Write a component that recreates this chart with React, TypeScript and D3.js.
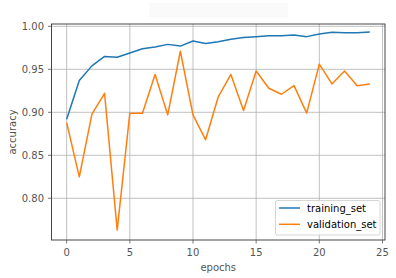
import React from "react";
import * as d3 from "d3";

const epochs = d3.range(25);
const trainingSet = [
  0.892, 0.937, 0.954, 0.965, 0.964, 0.969, 0.974, 0.976, 0.979, 0.977,
  0.983, 0.98, 0.982, 0.985, 0.987, 0.988, 0.989, 0.989, 0.99, 0.988,
  0.991, 0.993, 0.9926, 0.9926, 0.9934
];
const validationSet = [
  0.888, 0.825, 0.898, 0.922, 0.763, 0.899, 0.899, 0.944, 0.897, 0.971,
  0.897, 0.868, 0.918, 0.944, 0.902, 0.948, 0.928, 0.921, 0.931, 0.899,
  0.956, 0.933, 0.948, 0.931, 0.933
];
const xTicks = [0, 5, 10, 15, 20, 25];
const yTicks = [0.8, 0.85, 0.9, 0.95, 1.0];
const seriesNames = ["training_set", "validation_set"];
const colors = ["#1f77b4", "#ff7f0e"];

const W = 396;
const H = 278;
const left = 51.5;
const right = 385;
const top = 24;
const bottom = 240;

export default function App() {
  const x = d3.scaleLinear().domain([-1.2, 25.2]).range([left, right]);
  const y = d3.scaleLinear().domain([0.7515, 1.0027]).range([bottom, top]);

  const line = d3
    .line<number>()
    .x((_, i) => x(epochs[i]))
    .y(d => y(d));

  const font = "'DejaVu Sans', sans-serif";
  const tickColor = "#555";

  return (
    <svg
      width={W}
      height={H}
      style={{ position: "absolute", left: 0, top: 0 }}
      fontFamily={font}
    >
      <rect width={W} height={H} fill="#fff" />
      <rect x={149} y={3} width={139} height={15} fill="#fafafa" />
      {/* grid */}
      {xTicks.map(t => (
        <line key={"gx" + t} x1={x(t)} x2={x(t)} y1={top} y2={bottom} stroke="#b0b0b0" strokeWidth={0.8} />
      ))}
      {yTicks.map(t => (
        <line key={"gy" + t} x1={left} x2={right} y1={y(t)} y2={y(t)} stroke="#b0b0b0" strokeWidth={0.8} />
      ))}
      {/* series */}
      {[trainingSet, validationSet].map((s, i) => (
        <path key={i} d={line(s) || ""} fill="none" stroke={colors[i]} strokeWidth={1.5} strokeLinejoin="round" />
      ))}
      {/* spines */}
      <rect x={left} y={top} width={right - left} height={bottom - top} fill="none" stroke="#333" strokeWidth={0.9} />
      {/* ticks */}
      {xTicks.map(t => (
        <g key={"tx" + t}>
          <line x1={x(t)} x2={x(t)} y1={bottom} y2={bottom + 3.5} stroke={tickColor} strokeWidth={0.8} />
          <text x={x(t)} y={255.5} fontSize={10} fill={tickColor} textAnchor="middle">{t}</text>
        </g>
      ))}
      {yTicks.map(t => (
        <g key={"ty" + t}>
          <line x1={left - 3.5} x2={left} y1={y(t)} y2={y(t)} stroke={tickColor} strokeWidth={0.8} />
          <text x={44} y={y(t)} dy="0.35em" fontSize={10} fill={tickColor} textAnchor="end">{t.toFixed(2)}</text>
        </g>
      ))}
      <text x={(left + right) / 2} y={271} fontSize={10} fill={tickColor} textAnchor="middle">epochs</text>
      <text transform={`translate(15.5,${(top + bottom) / 2}) rotate(-90)`} fontSize={10} fill={tickColor} textAnchor="middle">accuracy</text>
      {/* legend */}
      <rect x={275.5} y={200.5} width={104.5} height={34.5} rx={2} fill="#fff" fillOpacity={0.8} stroke="#ccc" strokeWidth={0.8} />
      {seriesNames.map((n, i) => (
        <g key={n}>
          <line x1={279} x2={300} y1={208 + i * 16.3} y2={208 + i * 16.3} stroke={colors[i]} strokeWidth={1.5} />
          <text x={307} y={208 + i * 16.3} dy="0.35em" fontSize={10} fill="#000">{n}</text>
        </g>
      ))}
    </svg>
  );
}
